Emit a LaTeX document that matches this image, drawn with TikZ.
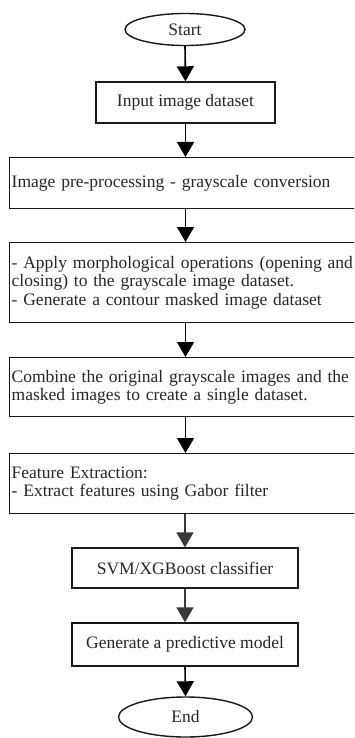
\documentclass[tikz,border=0pt]{standalone}
\usepackage{fontspec}
\setmainfont{Liberation Serif}
\usetikzlibrary{arrows.meta,shapes.geometric}
\begin{document}
\begin{tikzpicture}[x=1pt,y=-1pt,
  every node/.style={font=\fontsize{17.5}{18.5}\selectfont, text=black!85},
  box/.style={draw=black!90, line width=1.4pt, inner sep=0pt},
  wide/.style={box, anchor=north west, minimum width=352pt, text width=348pt, inner xsep=2pt, align=left},
  term/.style={draw=black!90, line width=1.4pt, ellipse, inner sep=0pt},
  arr/.style={line width=1.6pt, -{Triangle[length=15pt,width=17pt]}},
  garr/.style={arr, draw=black!78, -{Triangle[length=15pt,width=17pt,fill=black!78]}}]
\useasboundingbox (0,0) rectangle (354,738);
\clip (0,0) rectangle (354,738);
\fill[white] (0,0) rectangle (354,738);
\node[term, minimum width=120pt, minimum height=32pt] (start) at (185,29.5) {Start};
\node[box, minimum width=179pt, minimum height=41pt] (input) at (185.5,102.5) {Input image dataset};
\node[wide, minimum height=51pt] (pre) at (9,157) {Image pre-processing - grayscale conversion};
\node[wide, minimum height=80pt] (morph) at (9,242) {- Apply morphological operations (opening and\\closing) to the grayscale image dataset.\\- Generate a contour masked image dataset};
\node[wide, minimum height=59pt] (comb) at (9,357) {Combine the original grayscale images and the\\masked images to create a single dataset.};
\node[wide, minimum height=60pt] (feat) at (9,453) {Feature Extraction:\\- Extract features using Gabor filter};
\node[box, minimum width=226pt, minimum height=40pt] (svm) at (185,568) {SVM/XGBoost classifier};
\node[box, minimum width=226pt, minimum height=43pt] (gen) at (185,644.5) {Generate a predictive model};
\node[term, minimum width=134pt, minimum height=40pt] (end) at (185.5,717) {End};
\draw[arr] (start.south) -- (input.north);
\draw[arr] (input.south) -- (pre.north -| input.south);
\draw[arr] (pre.south -| input.south) -- (morph.north -| input.south);
\draw[arr] (morph.south -| input.south) -- (comb.north -| input.south);
\draw[arr] (comb.south -| input.south) -- (feat.north -| input.south);
\draw[garr] (feat.south -| svm.north) -- (svm.north);
\draw[garr] (svm.south) -- (gen.north);
\draw[arr] (gen.south) -- (end.north);
\end{tikzpicture}
\end{document}
